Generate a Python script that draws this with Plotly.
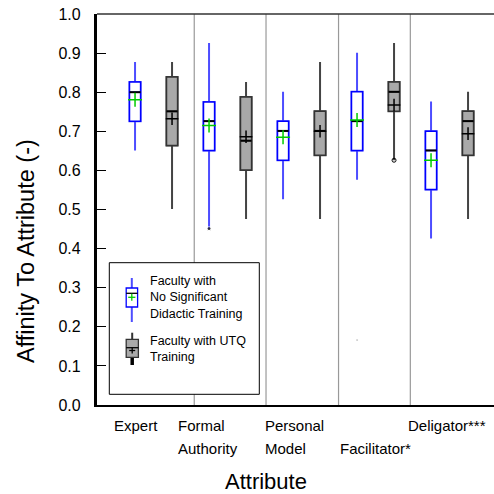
import plotly.graph_objects as go

# ---------------- data ----------------
categories = ["Expert", "Formal Authority", "Personal Model", "Facilitator*", "Deligator***"]

# Faculty with no significant didactic training (blue)
ns_upper = [0.877, 0.926, 0.801, 0.901, 0.776]
ns_q3 = [0.826, 0.775, 0.726, 0.801, 0.700]
ns_median = [0.800, 0.726, 0.701, 0.726, 0.651]
ns_mean = [0.781, 0.715, 0.685, 0.729, 0.626]
ns_q1 = [0.726, 0.651, 0.626, 0.651, 0.551]
ns_lower = [0.651, 0.451, 0.526, 0.576, 0.426]
ns_out_cat = [1, 3]
ns_out_val = [0.451, 0.166]

# Faculty with UTQ training (gray)
utq_upper = [0.877, 0.826, 0.877, 0.926, 0.801]
utq_q3 = [0.839, 0.788, 0.751, 0.826, 0.751]
utq_median = [0.751, 0.676, 0.701, 0.801, 0.726]
utq_mean = [0.732, 0.686, 0.700, 0.767, 0.694]
utq_q1 = [0.664, 0.601, 0.639, 0.751, 0.639]
utq_lower = [0.501, 0.476, 0.476, 0.626, 0.476]
utq_out_cat = [3]
utq_out_val = [0.626]

y_ticks = [round(i * 0.1, 1) for i in range(11)]

# ---------------- layout helpers ----------------
W, H = 494, 494
ML, MR, MT, MB = 97, 0, 14, 89
PW, PH = W - ML - MR, H - MT - MB
X0 = -0.764
X1 = X0 + PW / 74.0
OFF = 0.25
BW = 0.15

def px2paper_x(px):
    return (px - ML) / PW

def py2paper_y(py):
    return (H - MB - py) / PH

n = len(categories)
pos_ns = [i - OFF for i in range(n)]
pos_utq = [i + OFF for i in range(n)]

fig = go.Figure()

def add_group(pos, q1, med, q3, lo, hi, whisk_col, edge_col, fill_col):
    # whiskers
    fig.add_trace(go.Box(x=pos, q1=q1, median=med, q3=q3, lowerfence=lo, upperfence=hi,
                         width=BW, whiskerwidth=0, line=dict(color=whisk_col, width=2),
                         fillcolor=fill_col, boxpoints=False, showlegend=False, hoverinfo="skip"))
    # box body on top
    fig.add_trace(go.Box(x=pos, q1=q1, median=med, q3=q3, lowerfence=q1, upperfence=q3,
                         width=BW, whiskerwidth=0, line=dict(color=edge_col, width=1.5),
                         fillcolor=fill_col, boxpoints=False, showlegend=False, hoverinfo="skip"))
    # black median line
    mx, my = [], []
    for p, m in zip(pos, med):
        mx += [p - BW / 2, p + BW / 2, None]
        my += [m, m, None]
    fig.add_trace(go.Scatter(x=mx, y=my, mode="lines", line=dict(color="black", width=2),
                             showlegend=False, hoverinfo="skip"))

add_group(pos_ns, ns_q1, ns_median, ns_q3, ns_lower, ns_upper, "#4d4dff", "#0000ff", "white")
add_group(pos_utq, utq_q1, utq_median, utq_q3, utq_lower, utq_upper, "#444444", "#333333", "#a9a9a9")

# means
fig.add_trace(go.Scatter(x=pos_ns, y=ns_mean, mode="markers",
                         marker=dict(symbol="cross-thin", size=10, line=dict(color="#00cc00", width=1.5)),
                         showlegend=False, hoverinfo="skip"))
fig.add_trace(go.Scatter(x=pos_utq, y=utq_mean, mode="markers",
                         marker=dict(symbol="cross-thin", size=9, line=dict(color="black", width=1.5)),
                         showlegend=False, hoverinfo="skip"))

# outliers
fig.add_trace(go.Scatter(x=[pos_ns[c] for c in ns_out_cat], y=ns_out_val, mode="markers",
                         marker=dict(color="black", size=[4, 2]), showlegend=False, hoverinfo="skip"))
fig.add_trace(go.Scatter(x=[pos_utq[c] for c in utq_out_cat], y=utq_out_val, mode="markers",
                         marker=dict(symbol="circle-open", color="black", size=4, line=dict(width=1)),
                         showlegend=False, hoverinfo="skip"))

shapes = []
# category dividers
for xd in [0.55, 1.52, 2.5, 3.47]:
    shapes.append(dict(type="line", xref="x", yref="paper", x0=xd, x1=xd, y0=0, y1=1,
                       line=dict(color="#999999", width=1.2), layer="below"))
# top border
shapes.append(dict(type="line", xref="paper", yref="paper", x0=0, x1=1, y0=1, y1=1,
                   line=dict(color="#333333", width=1.3)))

# legend frame
shapes.append(dict(type="rect", xref="paper", yref="paper",
                   x0=px2paper_x(109.3), x1=px2paper_x(259.3), y0=py2paper_y(394.3), y1=py2paper_y(262.7),
                   line=dict(color="black", width=1), fillcolor="white"))

def pline(x0, y0, x1, y1, color, width):
    shapes.append(dict(type="line", xref="paper", yref="paper",
                       x0=px2paper_x(x0), x1=px2paper_x(x1), y0=py2paper_y(y0), y1=py2paper_y(y1),
                       line=dict(color=color, width=width)))

def prect(x0, y0, x1, y1, color, fill, width):
    shapes.append(dict(type="rect", xref="paper", yref="paper",
                       x0=px2paper_x(x0), x1=px2paper_x(x1), y0=py2paper_y(y1), y1=py2paper_y(y0),
                       line=dict(color=color, width=width), fillcolor=fill))

# legend icon 1 (blue)
pline(131.8, 278, 131.8, 322, "#4d4dff", 2)
prect(126.2, 288, 137.6, 307, "#0000ff", "white", 1.3)
pline(126.2, 293.3, 137.6, 293.3, "black", 1.3)
pline(128.2, 297.3, 135.4, 297.3, "#00cc00", 1.3)
pline(131.8, 293.8, 131.8, 300.8, "#00cc00", 1.3)
# legend icon 2 (gray)
pline(132.2, 332.7, 132.2, 358, "#333333", 2)
pline(132.2, 357, 132.2, 365, "black", 3.5)
prect(126.2, 339.3, 138.4, 357.3, "#333333", "#a9a9a9", 1.3)
pline(126.2, 347.7, 138.4, 347.7, "black", 1.3)
pline(129.2, 350.5, 135.2, 350.5, "black", 1.3)
pline(132.2, 347.5, 132.2, 353.5, "black", 1.3)

FONT = "Arial, 'Liberation Sans', sans-serif"
ann = []
ann.append(dict(xref="paper", yref="paper", x=px2paper_x(147.5), y=py2paper_y(297.5),
                xanchor="left", yanchor="middle", align="left", showarrow=False,
                text="Faculty with<br>No Significant<br>Didactic Training",
                font=dict(family=FONT, size=12.5, color="black")))
ann.append(dict(xref="paper", yref="paper", x=px2paper_x(147.5), y=py2paper_y(348.5),
                xanchor="left", yanchor="middle", align="left", showarrow=False,
                text="Faculty with UTQ<br>Training",
                font=dict(family=FONT, size=12.5, color="black")))

# category labels (left x in px, starting row)
label_left = [112, 176, 262.7, 338, 406]
label_row = [0, 0, 0, 1, 0]
row_y = [425, 448]
for name, lx, r in zip(categories, label_left, label_row):
    parts = name.split(" ")
    for k, part in enumerate(parts):
        ann.append(dict(xref="paper", yref="paper", x=px2paper_x(lx), y=py2paper_y(row_y[r + k]),
                        xanchor="left", yanchor="middle", showarrow=False, text=part,
                        font=dict(family=FONT, size=15, color="black")))

# axis titles
ann.append(dict(xref="paper", yref="paper", x=px2paper_x(266), y=py2paper_y(481),
                xanchor="center", yanchor="middle", showarrow=False, text="Attribute",
                font=dict(family=FONT, size=22, color="black")))
ann.append(dict(xref="paper", yref="paper", x=px2paper_x(26), y=py2paper_y(251),
                xanchor="center", yanchor="middle", showarrow=False, textangle=-90,
                text="Affinity To Attribute (-)",
                font=dict(family=FONT, size=23.5, color="black")))

fig.update_layout(
    width=W, height=H, margin=dict(l=ML, r=MR, t=MT, b=MB),
    paper_bgcolor="white", plot_bgcolor="white",
    boxmode="overlay", showlegend=False,
    shapes=shapes, annotations=ann,
    xaxis=dict(range=[X0, X1], showgrid=False, zeroline=False, showticklabels=False,
               ticks="", showline=True, linecolor="black", linewidth=2.2),
    yaxis=dict(range=[0, 1], tickvals=y_ticks, ticktext=[f"{v:.1f}" for v in y_ticks],
               showgrid=False, zeroline=False, ticks="inside", ticklen=9, tickwidth=1.3,
               tickcolor="black", showline=True, linecolor="black", linewidth=3.3,
               tickfont=dict(family=FONT, size=16, color="black"), ticklabelstandoff=10),
)

fig.write_html("out.html", config={"displayModeBar": False},
               post_script="document.body.style.margin='0';document.body.style.overflow='hidden';")
